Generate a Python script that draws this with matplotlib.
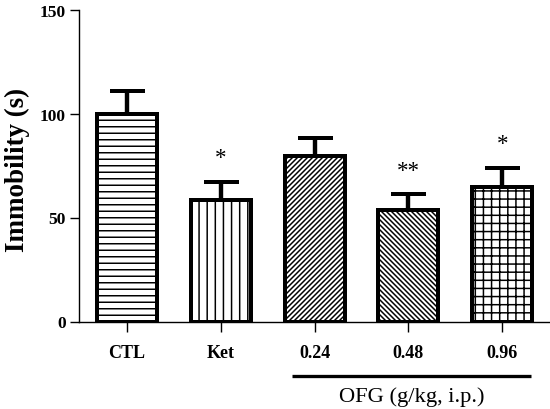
import matplotlib
matplotlib.use('Agg')
import matplotlib.pyplot as plt
import matplotlib.transforms as mtransforms

# data
groups = ['CTL', 'Ket', '0.24', '0.48', '0.96']
immobility_mean = [100, 58.5, 80, 54, 65]
immobility_sem = [11, 9, 8.4, 7.5, 9.2]
significance = ['', '*', '', '**', '*']
hatches = ['-----', '||||', '/' * 13, '\\' * 13, '++++']

DPI = 195
PT = 72 / DPI  # points per pixel

matplotlib.rcParams['font.family'] = ['Liberation Serif', 'DejaVu Serif']
matplotlib.rcParams['hatch.linewidth'] = 1.5 * PT
matplotlib.rcParams['hatch.color'] = 'black'


def plot_data():
    fig = plt.figure(figsize=(550.3 / DPI, 409.3 / DPI), dpi=DPI)
    ax = fig.add_axes([79 / 550, 87 / 409, 471 / 550, 311.3 / 409])

    x = list(range(len(groups)))
    ax.bar(x, immobility_mean, width=0.64, color='white', edgecolor='black',
           linewidth=4 * PT, hatch=hatches, zorder=2)
    ax.errorbar(x, immobility_mean, yerr=[[0] * len(x), immobility_sem], fmt='none',
                ecolor='black', elinewidth=4.4 * PT, capsize=17.5 * PT,
                capthick=4 * PT, zorder=1)

    for i, sig in enumerate(significance):
        if sig:
            ax.annotate(sig, (i, immobility_mean[i] + immobility_sem[i]),
                        xytext=(0, 18 * PT), textcoords='offset points',
                        ha='center', va='baseline', fontsize=23 * PT)

    ax.set_xlim(-0.512, 4.512)
    ax.set_ylim(0, 150)
    ax.set_yticks([0, 50, 100, 150])
    ax.set_xticks(x)
    ax.set_xticklabels(groups, fontweight='bold', fontsize=18 * PT)
    for lab in ax.get_yticklabels():
        lab.set_fontweight('bold')
        lab.set_fontsize(17.5 * PT)

    for side in ['top', 'right']:
        ax.spines[side].set_visible(False)
    for side in ['left', 'bottom']:
        ax.spines[side].set_linewidth(1.4 * PT)
    ax.tick_params(axis='y', length=8.5 * PT, width=1.4 * PT, pad=5 * PT)
    ax.tick_params(axis='x', length=10 * PT, width=1.4 * PT, pad=13 * PT)

    # OFG group bracket under the dose labels
    trans = mtransforms.blended_transform_factory(ax.transData, ax.transAxes)
    ax.plot([1.76, 4.31], [-0.1735, -0.1735], color='black', linewidth=3.3 * PT,
            transform=trans, clip_on=False, solid_capstyle='butt')
    ax.text(3.04, -0.241, 'OFG (g/kg, i.p.)', transform=trans, ha='center',
            va='center', fontsize=22.5 * PT)

    fig.text(17 / 550, (409 - 170) / 409, 'Immobility (s)', rotation=90,
             ha='center', va='center', fontweight='bold', fontsize=27 * PT)

    plt.savefig('out.png', dpi=DPI)


def main():
    plot_data()


if __name__ == '__main__':
    main()
